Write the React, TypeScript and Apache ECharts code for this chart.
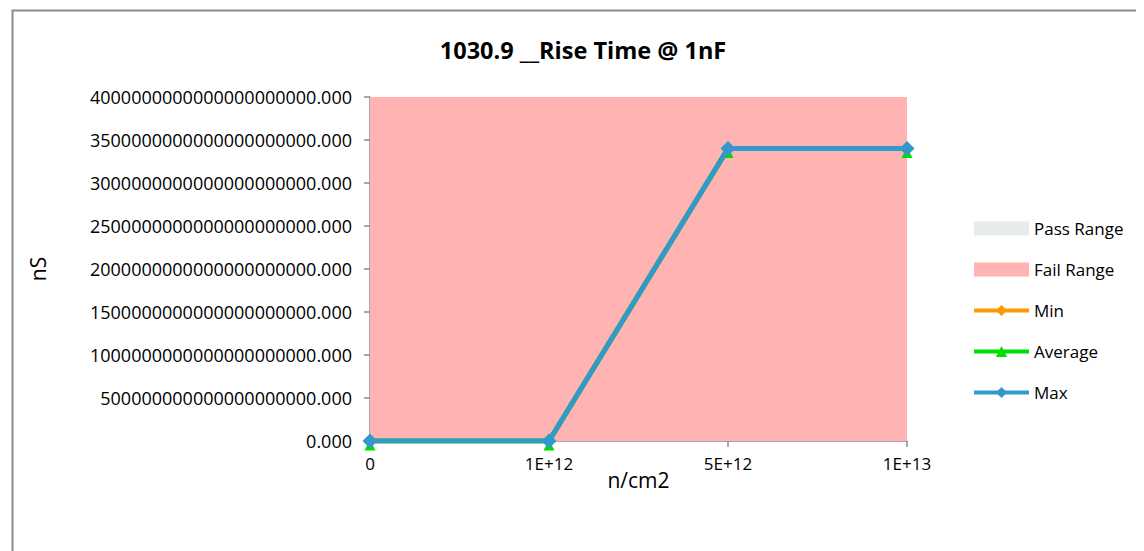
import React, { useEffect, useRef } from "react";
import * as echarts from "echarts";

const categories = ["0", "1E+12", "5E+12", "1E+13"];
const passRange = [0, 0, 0, 0];
const failRange = [4e21, 4e21, 4e21, 4e21];
const minValues = [0, 0, 3.4e21, 3.4e21];
const avgValues = [0, 0, 3.4e21, 3.4e21];
const maxValues = [0, 0, 3.4e21, 3.4e21];

const FONT = "Open Sans";

function fmt(v: number): string {
  const n = Math.round(v / 1e20);
  if (n === 0) return "0.000";
  return n.toString() + "0".repeat(20) + ".000";
}

export default function App() {
  const ref = useRef<HTMLDivElement>(null);
  useEffect(() => {
    if (!ref.current) return;
    const chart = echarts.init(ref.current, undefined, { renderer: "svg" });
    chart.setOption({
      animation: false,
      backgroundColor: "#ffffff",
      textStyle: { fontFamily: FONT },
      title: {
        text: "1030.9 __Rise Time @ 1nF",
        left: 570,
        top: 25,
        textAlign: "center",
        textStyle: { fontFamily: FONT, fontSize: 23.5, fontWeight: "bold", color: "#000" },
      },
      graphic: [
        {
          type: "rect",
          shape: { x: 4.5, y: 2.5, width: 1300, height: 700 },
          style: { fill: "none", stroke: "#8c8c8c", lineWidth: 2 },
          silent: true,
        },
      ],
      grid: { left: 362, right: 237, top: 89, bottom: 110, containLabel: false },
      legend: {
        orient: "vertical",
        left: 959,
        top: 207,
        itemWidth: 55,
        itemHeight: 14,
        itemGap: 24,
        textStyle: { fontFamily: FONT, fontSize: 17, color: "#000" },
        data: [
          { name: "Pass Range", icon: "rect" },
          { name: "Fail Range", icon: "rect" },
          { name: "Min", lineStyle: { width: 4 } },
          { name: "Average", lineStyle: { width: 4 } },
          { name: "Max", lineStyle: { width: 4 } },
        ],
      },
      xAxis: {
        type: "category",
        data: categories,
        boundaryGap: false,
        name: "n/cm2",
        nameLocation: "middle",
        nameGap: 28,
        nameMoveOverlap: false,
        nameTextStyle: { fontFamily: FONT, fontSize: 21, color: "#000" },
        axisLine: { lineStyle: { color: "#8c8c8c", width: 1.5 } },
        axisTick: { show: true, length: 6, lineStyle: { color: "#8c8c8c", width: 1.5 } },
        axisLabel: { fontFamily: FONT, fontSize: 17, color: "#000", margin: 14 },
        splitLine: { show: false },
      },
      yAxis: {
        type: "value",
        min: 0,
        max: 4e21,
        interval: 5e20,
        name: "nS",
        nameLocation: "middle",
        nameGap: 322,
        nameMoveOverlap: false,
        nameTextStyle: { fontFamily: FONT, fontSize: 21, color: "#000" },
        axisLine: { show: true, lineStyle: { color: "#8c8c8c", width: 1.5 } },
        axisTick: { show: true, length: 6, lineStyle: { color: "#8c8c8c", width: 1.5 } },
        axisLabel: { fontFamily: FONT, fontSize: 18, color: "#000", margin: 18, formatter: fmt },
        splitLine: { show: false },
      },
      series: [
        {
          name: "Pass Range",
          type: "line",
          data: passRange,
          symbol: "none",
          lineStyle: { width: 0 },
          itemStyle: { color: "#e6ecec" },
          areaStyle: { color: "#e6ecec", opacity: 1 },
          z: 1,
        },
        {
          name: "Fail Range",
          type: "line",
          data: failRange,
          symbol: "none",
          lineStyle: { width: 0 },
          itemStyle: { color: "#ffb3b3" },
          areaStyle: { color: "#ffb3b3", opacity: 1 },
          z: 1,
        },
        {
          name: "Min",
          type: "line",
          data: minValues,
          symbol: "diamond",
          symbolSize: 11,
          lineStyle: { width: 5, color: "#ff9900" },
          itemStyle: { color: "#ff9900" },
          z: 3,
        },
        {
          name: "Average",
          type: "line",
          data: avgValues,
          symbol: "triangle",
          symbolSize: 11,
          symbolOffset: [0, 4],
          lineStyle: { width: 5, color: "#00dd00" },
          itemStyle: { color: "#00dd00" },
          z: 4,
        },
        {
          name: "Max",
          type: "line",
          data: maxValues,
          symbol: "diamond",
          symbolSize: 15,
          lineStyle: { width: 5, color: "#3399cc" },
          itemStyle: { color: "#3399cc" },
          z: 5,
        },
      ],
    });
    return () => chart.dispose();
  }, []);
  return <div ref={ref} style={{ width: 1136, height: 543 }} />;
}
